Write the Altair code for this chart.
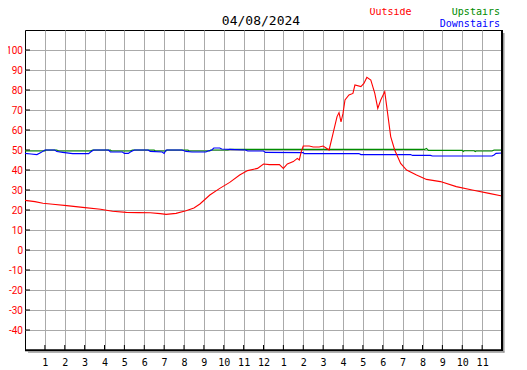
import json
import altair as alt
import pandas as pd

# ---------------- data ----------------
outside_hours = [0.0, 0.5, 0.9, 1.4, 2.1, 2.9, 3.8, 4.4, 5.1, 5.7, 6.3, 6.8, 7.1, 7.6,
                 8.1, 8.5, 8.8, 9.3, 9.8, 10.3, 10.8, 11.2, 11.7, 12.0, 12.3, 12.8,
                 13.0, 13.2, 13.5, 13.7, 13.8, 13.9, 14.0, 14.3, 14.5, 14.8, 15.0,
                 15.3, 15.5, 15.7, 15.8, 15.9, 16.0, 16.1, 16.3, 16.5, 16.6, 16.9,
                 17.05, 17.2, 17.4, 17.6, 17.75, 17.9, 18.1, 18.2, 18.4, 18.6, 18.9,
                 19.2, 19.7, 20.2, 20.9, 21.7, 22.5, 23.35, 24.0]
outside_temps = [24.8, 24.2, 23.4, 22.9, 22.2, 21.3, 20.4, 19.4, 18.8, 18.7, 18.6, 18.2,
                 17.8, 18.3, 19.6, 21.0, 23.0, 27.5, 30.8, 33.8, 37.5, 39.7, 40.8, 43.0,
                 42.7, 42.7, 40.8, 43.0, 44.2, 45.8, 45.0, 49.2, 52.0, 52.0, 51.5, 51.5,
                 52.0, 50.0, 58.3, 66.7, 68.7, 64.0, 68.3, 75.0, 77.5, 78.3, 82.5, 81.7,
                 83.3, 86.3, 85.0, 78.3, 70.8, 75.0, 79.2, 71.7, 56.7, 50.0, 43.3, 40.0,
                 37.5, 35.3, 34.2, 31.7, 30.0, 28.3, 27.0]

upstairs_hours = [0.0, 1.0, 1.05, 1.6, 1.7, 3.3, 3.4, 4.3, 4.35, 5.3, 5.4, 6.5, 6.55,
                  7.1, 7.15, 8.2, 8.25, 9.3, 9.35, 10.2, 10.3, 20.1, 20.2, 20.3, 22.0,
                  22.05, 22.1, 22.6, 22.65, 22.7, 23.5, 23.6, 24.0]
upstairs_temps = [49.5, 49.5, 50.0, 50.0, 49.5, 49.5, 50.0, 50.0, 49.5, 49.5, 50.0, 50.0,
                  49.5, 49.5, 50.0, 50.0, 49.5, 49.5, 50.0, 50.0, 50.3, 50.3, 50.8, 49.8,
                  49.8, 49.2, 49.6, 49.6, 49.2, 49.5, 49.5, 50.0, 50.0]

downstairs_hours = [0.0, 0.3, 0.6, 0.8, 1.0, 1.5, 1.6, 1.9, 2.4, 3.2, 3.3, 3.45, 4.2,
                    4.3, 4.9, 5.0, 5.2, 5.3, 5.5, 6.2, 6.3, 6.9, 7.0, 7.1, 7.9, 8.1,
                    8.4, 9.1, 9.2, 9.4, 9.5, 9.8, 9.9, 10.3, 11.1, 11.2, 12.0, 12.1,
                    14.0, 14.05, 16.8, 16.9, 19.4, 19.5, 20.4, 20.5, 23.5, 23.6, 23.7,
                    24.0]
downstairs_temps = [48.3, 48.0, 47.7, 48.7, 50.0, 50.0, 49.2, 48.8, 48.2, 48.2, 49.0,
                    50.0, 50.0, 49.0, 49.0, 48.3, 48.3, 49.0, 50.0, 50.0, 49.3, 49.0,
                    48.3, 50.0, 50.0, 49.3, 49.0, 49.0, 49.5, 50.0, 51.0, 51.0, 50.5,
                    50.3, 50.0, 49.5, 49.5, 48.8, 48.7, 48.2, 48.2, 47.7, 47.7, 47.3,
                    47.3, 47.0, 47.0, 47.5, 48.3, 48.5]

x_tick_hours = list(range(1, 24))
x_tick_labels = ["1", "2", "3", "4", "5", "6", "7", "8", "9", "10", "11", "12",
                 "1", "2", "3", "4", "5", "6", "7", "8", "9", "10", "11"]
y_tick_values = [-40, -30, -20, -10, 0, 10, 20, 30, 40, 50, 60, 70, 80, 90, 100]
title_text = "04/08/2024"
series_names = ["Outside", "Upstairs", "Downstairs"]
series_colors = ["#ff0000", "#008c00", "#0000ff"]

# ---------------- styling ----------------
W, H = 477, 320
FONT = "DejaVu Sans Mono"
YFONT = "Roboto"
GRID = "#aaaaaa"

x_scale = alt.Scale(domain=[0, 24], nice=False, zero=False)
y_scale = alt.Scale(domain=[-50, 110], nice=False, zero=False)

label_expr = "%s[datum.value - 1]" % json.dumps(x_tick_labels)

x_axis = alt.Axis(values=x_tick_hours, labelExpr=label_expr, grid=True, gridColor=GRID,
                  gridWidth=1, gridOpacity=1, ticks=False, tickSize=0, domain=False,
                  labelFont=FONT, labelFontSize=10, labelColor="black", labelPadding=7,
                  labelAngle=0, labelFlush=False, labelOverlap=False, title=None)
y_axis = alt.Axis(values=y_tick_values, labelExpr="'' + datum.value", grid=True,
                  gridColor=GRID, gridWidth=1, gridOpacity=1, ticks=False, tickSize=0,
                  domain=False, labelFont=YFONT, labelFontSize=10, labelColor="#ff0000",
                  labelPadding=2.5, labelFlush=False, labelOverlap=False, title=None)


def line_layer(hours, temps, color):
    df = pd.DataFrame({"hour": hours, "temp": temps})
    return alt.Chart(df).mark_line(color=color, strokeWidth=1.1, clip=True).encode(
        x=alt.X("hour:Q", scale=x_scale, axis=x_axis),
        y=alt.Y("temp:Q", scale=y_scale, axis=y_axis),
    )


one = pd.DataFrame({"k": [0]})

y_ticks = alt.Chart(pd.DataFrame({"temp": y_tick_values})).mark_rule(
    color="black", strokeWidth=1).encode(
    y=alt.Y("temp:Q", scale=y_scale, axis=y_axis),
    x=alt.value(0), x2=alt.value(5))

x_ticks = alt.Chart(pd.DataFrame({"hour": x_tick_hours})).mark_rule(
    color="black", strokeWidth=1).encode(
    x=alt.X("hour:Q", scale=x_scale, axis=x_axis),
    y=alt.value(315), y2=alt.value(320))

right_border = alt.Chart(one).mark_rule(color="black", strokeWidth=2).encode(
    x=alt.value(W), y=alt.value(0), y2=alt.value(H + 1))
right_shadow = alt.Chart(one).mark_rule(color="#999999", strokeWidth=1.5).encode(
    x=alt.value(W + 1.8), y=alt.value(3), y2=alt.value(H + 2.5))
bottom_border = alt.Chart(one).mark_rule(color="black", strokeWidth=2).encode(
    x=alt.value(0), x2=alt.value(W + 1), y=alt.value(H + 0.3))
bottom_shadow = alt.Chart(one).mark_rule(color="#999999", strokeWidth=1.5).encode(
    x=alt.value(3), x2=alt.value(W + 2.5), y=alt.value(H + 2))


def text_layer(txt, color, size, x, y, align):
    return alt.Chart(one).mark_text(text=txt, color=color, font=FONT, fontSize=size,
                                    align=align, baseline="alphabetic").encode(
        x=alt.value(x), y=alt.value(y))


title = text_layer(title_text, "black", 13, 236, -5, "center")
leg_out = text_layer(series_names[0], series_colors[0], 10, 344.5, -15.5, "left")
leg_up = text_layer(series_names[1], series_colors[1], 10, 475, -15.5, "right")
leg_down = text_layer(series_names[2], series_colors[2], 10, 475, -3.5, "right")

chart = alt.layer(
    y_ticks, x_ticks,
    line_layer(upstairs_hours, upstairs_temps, series_colors[1]),
    line_layer(downstairs_hours, downstairs_temps, series_colors[2]),
    line_layer(outside_hours, outside_temps, series_colors[0]),
    right_border, right_shadow, bottom_border, bottom_shadow,
    title, leg_out, leg_up, leg_down,
).properties(
    width=W, height=H,
    autosize=alt.AutoSizeParams(type="none"),
    padding={"left": 17, "top": 22, "right": 17, "bottom": 20},
    background="white",
).configure_view(stroke="black", strokeWidth=1)

chart.save("out.html", embed_options={"renderer": "svg", "actions": False})
